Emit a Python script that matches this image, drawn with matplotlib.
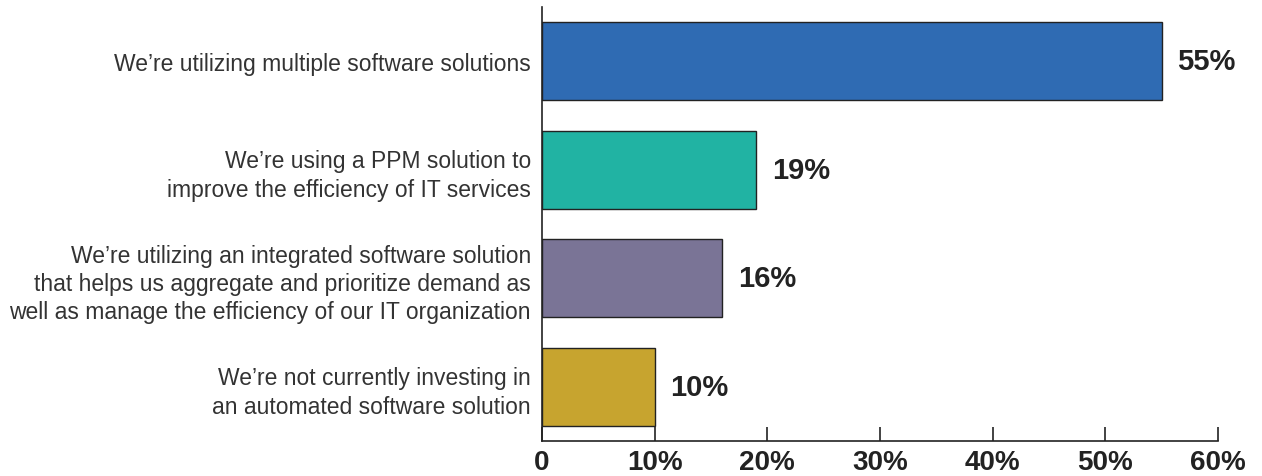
import matplotlib.pyplot as plt

# ==== Données ====
categories = [
    "We\u2019re utilizing multiple software solutions",
    "We\u2019re using a PPM solution to\nimprove the efficiency of IT services",
    "We\u2019re utilizing an integrated software solution\nthat helps us aggregate and prioritize demand as\nwell as manage the efficiency of our IT organization",
    "We\u2019re not currently investing in\nan automated software solution",
]
values = [55, 19, 16, 10]
colors = ["#2F6BB3", "#21B3A3", "#7A7496", "#C7A42F"]
x_ticks = [0, 10, 20, 30, 40, 50, 60]
x_tick_labels = ["0", "10%", "20%", "30%", "40%", "50%", "60%"]

plt.rcParams['font.family'] = ['Liberation Sans', 'DejaVu Sans']

fig = plt.figure(figsize=(12.62, 4.77), dpi=100)
ax = fig.add_axes([0.4295, 0.0734, 0.5356, 0.9096])

pos = list(range(len(categories)))
ax.barh(pos, values, height=0.72, color=colors, edgecolor="#222222", linewidth=1)

for p, v in zip(pos, values):
    ax.text(v + 1.4, p, f"{v}%", va="center", ha="left",
            fontsize=21, fontweight="bold", color="#222222")

ax.set_ylim(3.5, -0.5)
ax.set_xlim(0, 60)
ax.set_yticks(pos)
ax.set_yticklabels(categories, fontsize=16.5, color="#333333", linespacing=1.3)
ax.tick_params(axis="y", length=0, pad=8)

ax.set_xticks(x_ticks)
ax.set_xticklabels(x_tick_labels, fontsize=20, fontweight="bold", color="#222222")
ax.tick_params(axis="x", direction="in", length=10, width=1.2, color="#222222", pad=6)

for s in ["top", "right"]:
    ax.spines[s].set_visible(False)
for s in ["left", "bottom"]:
    ax.spines[s].set_color("#222222")
    ax.spines[s].set_linewidth(1.2)

fig.savefig("out.png", dpi=100)
